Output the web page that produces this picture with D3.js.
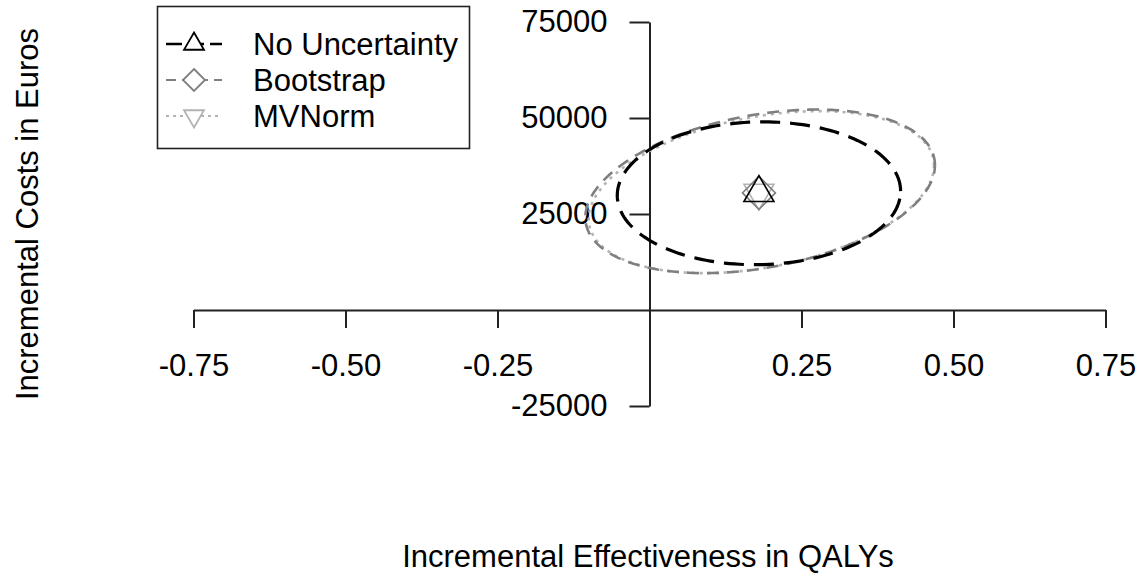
<!DOCTYPE html>
<html>
<head>
<meta charset="utf-8">
<script src="https://cdn.jsdelivr.net/npm/d3@7"></script>
<style>
  body { margin: 0; background: #fff; }
  svg text { font-family: "Liberation Sans", Arial, sans-serif; fill: #000; }
</style>
</head>
<body>
<svg id="chart" width="1142" height="576"></svg>
<script>
// axis ticks
const xTicks = [-0.75, -0.5, -0.25, 0.25, 0.5, 0.75]
const xTickLabels = ['-0.75', '-0.50', '-0.25', '0.25', '0.50', '0.75']
const yTicks = [-25000, 25000, 50000, 75000]
const yTickLabels = ['-25000', '25000', '50000', '75000']

// series: point estimate + confidence ellipse (centre, half widths, correlation)
const seriesNames = ['No Uncertainty', 'Bootstrap', 'MVNorm']
const pointX = [0.18, 0.18, 0.18]
const pointY = [30500, 30500, 30500]
const ellipseCx = [0.180, 0.182, 0.184]
const ellipseCy = [30400, 30900, 30700]
const ellipseHx = [0.233, 0.2875, 0.284]
const ellipseHy = [18600, 21300, 21100]
const ellipseR = [0.03, 0.32, 0.33]

const colors = ['#000000', '#7f7f7f', '#b3b3b3']
const dashes = ['20,10', '12,8', '3,5']
const widths = [3.2, 2.6, 2.6]
const shapes = ['up', 'diamond', 'down']

const fontSize = '31px'

const svg = d3.select('#chart')

const x = d3.scaleLinear().domain([-0.75, 0.75]).range([193.5, 1105.5])
const y = d3.scaleLinear().domain([-25000, 75000]).range([406, 22])

// x axis through y = 0
const xAxis = d3.axisBottom(x)
  .tickValues(xTicks)
  .tickFormat((d, i) => xTickLabels[i])
  .tickSize(18)
  .tickSizeOuter(0)
  .tickPadding(26)

const gx = svg.append('g')
  .attr('transform', `translate(0,${y(0)})`)
  .call(xAxis)
gx.select('.domain').attr('stroke', '#222').attr('stroke-width', 2)
gx.selectAll('.tick line').attr('stroke', '#222').attr('stroke-width', 2)
gx.selectAll('.tick text').style('font-size', fontSize).attr('fill', '#000')

// y axis through x = 0
const yAxis = d3.axisLeft(y)
  .tickValues(yTicks)
  .tickFormat((d, i) => yTickLabels[i])
  .tickSize(20)
  .tickSizeOuter(0)
  .tickPadding(22)

const gy = svg.append('g')
  .attr('transform', `translate(${x(0)},0)`)
  .call(yAxis)
gy.select('.domain').attr('stroke', '#222').attr('stroke-width', 2)
gy.selectAll('.tick line').attr('stroke', '#222').attr('stroke-width', 2)
gy.selectAll('.tick text').style('font-size', fontSize).attr('fill', '#000')

// axis titles
svg.append('text')
  .attr('x', 648)
  .attr('y', 556)
  .attr('text-anchor', 'middle')
  .attr('dominant-baseline', 'central')
  .style('font-size', fontSize)
  .text('Incremental Effectiveness in QALYs')

svg.append('text')
  .attr('transform', 'translate(27,214) rotate(-90)')
  .attr('text-anchor', 'middle')
  .attr('dominant-baseline', 'central')
  .style('font-size', fontSize)
  .text('Incremental Costs in Euros')

// confidence ellipses
const line = d3.line().x(d => x(d[0])).y(d => y(d[1]))
const angles = d3.range(0, 361, 2).map(a => a * Math.PI / 180)

function ellipsePoints(i) {
  const r = ellipseR[i]
  return angles.map(t => [
    ellipseCx[i] + ellipseHx[i] * Math.cos(t),
    ellipseCy[i] + ellipseHy[i] * (r * Math.cos(t) + Math.sqrt(1 - r * r) * Math.sin(t))
  ])
}

const plotOrder = [2, 1, 0]
svg.append('g').selectAll('path')
  .data(plotOrder)
  .join('path')
  .attr('d', i => line(ellipsePoints(i)))
  .attr('fill', 'none')
  .attr('stroke', i => colors[i])
  .attr('stroke-width', i => widths[i])
  .attr('stroke-dasharray', i => dashes[i])

// symbol paths, centred on the centroid like R's pch 2/5/6
function shapePath(kind, s) {
  const h = s * Math.sqrt(3) / 2
  if (kind === 'up') {
    return `M0,${-2 * h / 3}L${s / 2},${h / 3}L${-s / 2},${h / 3}Z`
  }
  if (kind === 'down') {
    return `M0,${2 * h / 3}L${s / 2},${-h / 3}L${-s / 2},${-h / 3}Z`
  }
  const d = s * 0.55
  return `M0,${-d}L${d},0L0,${d}L${-d},0Z`
}

svg.append('g').selectAll('path')
  .data(plotOrder)
  .join('path')
  .attr('transform', i => `translate(${x(pointX[i])},${y(pointY[i])})`)
  .attr('d', i => shapePath(shapes[i], 30))
  .attr('fill', 'none')
  .attr('stroke', i => colors[i])
  .attr('stroke-width', 1.6)

// legend
const legend = svg.append('g')
legend.append('rect')
  .attr('x', 157.5).attr('y', 6.5)
  .attr('width', 312).attr('height', 142)
  .attr('fill', '#fff')
  .attr('stroke', '#222')
  .attr('stroke-width', 1.6)

const legendY = [44, 80, 116]
const rows = legend.selectAll('g.row')
  .data(seriesNames)
  .join('g')
  .attr('class', 'row')
  .attr('transform', (d, i) => `translate(0,${legendY[i]})`)

rows.append('line')
  .attr('x1', 166).attr('x2', 222)
  .attr('stroke', (d, i) => colors[i])
  .attr('stroke-width', (d, i) => i === 0 ? 2.4 : 2)
  .attr('stroke-dasharray', (d, i) => ['16,6', '10,6', '3,4'][i])

rows.append('path')
  .attr('transform', 'translate(194,0)')
  .attr('d', (d, i) => shapePath(shapes[i], 20))
  .attr('fill', '#fff')
  .attr('stroke', (d, i) => colors[i])
  .attr('stroke-width', 1.8)

rows.append('text')
  .attr('x', 253)
  .attr('dominant-baseline', 'central')
  .style('font-size', fontSize)
  .text(d => d)
</script>
</body>
</html>
